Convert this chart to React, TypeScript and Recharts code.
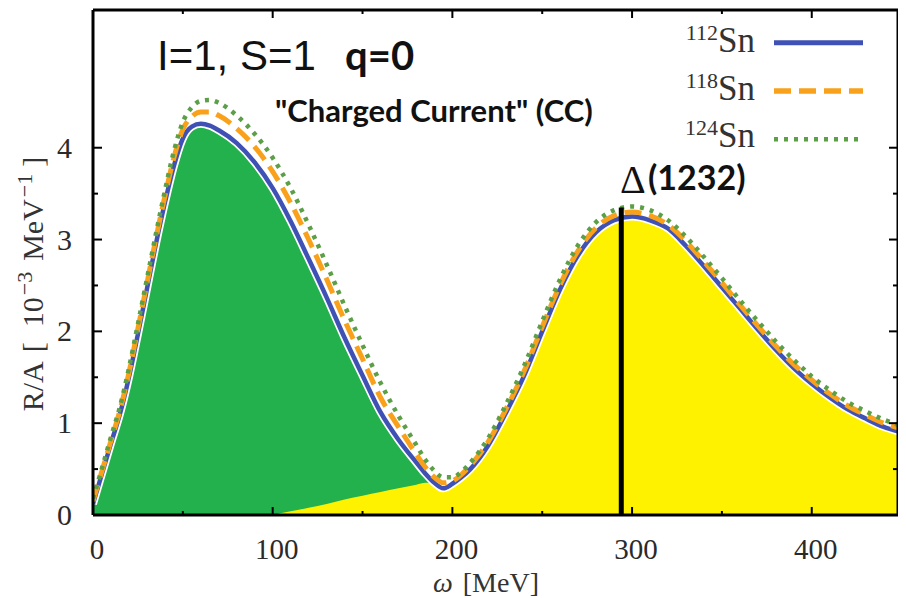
import React from 'react';
import { ComposedChart, Line, Area, XAxis, YAxis, ReferenceLine } from 'recharts';

// ω [MeV]
const OMEGA = [0, 5, 10, 15, 20, 25, 30, 35, 40, 45, 50, 55, 60, 65, 70,
  80, 90, 100, 110, 120, 130, 140, 150, 160, 170, 180,
  185, 190, 195, 200, 205, 210,
  220, 230, 240, 250, 260, 270, 280, 290, 300, 310, 320, 330, 340, 350, 360, 370, 380, 390, 400, 410, 420, 430, 440,
  448];

// R/A [10^-3 MeV^-1]
const SN112 = [0.12, 0.45, 0.78, 1.1, 1.5, 1.97, 2.46, 2.95, 3.4, 3.8, 4.1, 4.23, 4.26, 4.24, 4.19,
  4.05, 3.84, 3.56, 3.2, 2.79, 2.37, 1.93, 1.52, 1.12, 0.82, 0.57,
  0.45, 0.35, 0.29, 0.34, 0.41, 0.5,
  0.76, 1.12, 1.52, 2.0, 2.46, 2.83, 3.08, 3.21, 3.25, 3.21, 3.12, 2.93, 2.71, 2.48, 2.25, 2.02, 1.8, 1.6, 1.43, 1.28, 1.15, 1.05, 0.96,
  0.91];

const SN118 = [0.15, 0.48, 0.81, 1.14, 1.55, 2.03, 2.52, 3.01, 3.47, 3.89, 4.2, 4.34, 4.39, 4.39, 4.35,
  4.21, 4.01, 3.74, 3.4, 3.0, 2.57, 2.12, 1.7, 1.28, 0.96, 0.66,
  0.52, 0.41, 0.35, 0.37, 0.44, 0.54,
  0.8, 1.16, 1.57, 2.05, 2.51, 2.88, 3.13, 3.26, 3.3, 3.26, 3.16, 2.98, 2.76, 2.53, 2.29, 2.06, 1.84, 1.64, 1.47, 1.32, 1.19, 1.09, 1.0,
  0.95];

const SN124 = [0.18, 0.51, 0.85, 1.18, 1.6, 2.08, 2.57, 3.06, 3.53, 3.96, 4.28, 4.44, 4.51, 4.52, 4.49,
  4.35, 4.15, 3.89, 3.56, 3.16, 2.73, 2.28, 1.85, 1.44, 1.08, 0.76,
  0.6, 0.48, 0.41, 0.41, 0.47, 0.57,
  0.84, 1.21, 1.63, 2.11, 2.57, 2.94, 3.19, 3.32, 3.36, 3.32, 3.21, 3.03, 2.81, 2.58, 2.34, 2.11, 1.89, 1.69, 1.51, 1.36, 1.23, 1.13, 1.04,
  0.98];

// Δ contribution (yellow fill), null below 100 MeV
const DELTA_FILL = [null, null, null, null, null, null, null, null, null, null, null, null, null, null, null,
  null, null, 0, 0.04, 0.08, 0.12, 0.17, 0.21, 0.25, 0.29, 0.33,
  0.35, 0.35, 0.3, 0.34, 0.41, 0.5,
  0.76, 1.12, 1.52, 2.0, 2.46, 2.83, 3.08, 3.21, 3.25, 3.21, 3.12, 2.93, 2.71, 2.48, 2.25, 2.02, 1.8, 1.6, 1.43, 1.28, 1.15, 1.05, 0.96,
  0.91];

const QE_END = 190;
const DELTA_MASS_OMEGA = 294;
const DELTA_LINE_TOP = 3.35;

const X_TICKS = [0, 50, 100, 150, 200, 250, 300, 350, 400];
const X_LABELS = [0, 100, 200, 300, 400];
const Y_TICKS = [0, 0.5, 1, 1.5, 2, 2.5, 3, 3.5, 4];
const Y_LABELS = [0, 1, 2, 3, 4];

const LEGEND = [
  { mass: '112', color: '#3f51b5', dash: undefined as string | undefined, width: 5 },
  { mass: '118', color: '#f9a11b', dash: '17 8', width: 5.5 },
  { mass: '124', color: '#5b9f46', dash: '4 6', width: 4.5 },
];

const data = OMEGA.map((w, i) => ({
  w,
  b: SN112[i],
  o: SN118[i],
  g: SN124[i],
  qe: w <= QE_END ? SN112[i] : null,
  delta: DELTA_FILL[i],
}));

const W = 898;
const H = 590;
const SERIF = '"Liberation Serif", "DejaVu Serif", serif';
const TICK_COLOR = '#2a2a2a';

const BottomTick = (p: any) => {
  const { x, y, payload } = p;
  const v = payload.value;
  const major = X_LABELS.includes(v);
  return (
    <g>
      <line x1={x} x2={x} y1={y} y2={y - (major ? 8 : 4)} stroke="#000" strokeWidth={2} />
      {major && (
        <text x={x + 4} y={y + 44} textAnchor="middle" fontFamily={SERIF} fontSize={29} fill={TICK_COLOR}>{v}</text>
      )}
    </g>
  );
};
const TopTick = (p: any) => {
  const { x, y, payload } = p;
  const major = X_LABELS.includes(payload.value);
  return <line x1={x} x2={x} y1={y} y2={y + (major ? 8 : 4)} stroke="#000" strokeWidth={2} />;
};
const LeftTick = (p: any) => {
  const { x, y, payload } = p;
  const v = payload.value;
  const major = Y_LABELS.includes(v);
  return (
    <g>
      <line x1={x} x2={x + (major ? 9 : 5)} y1={y} y2={y} stroke="#000" strokeWidth={2} />
      {major && (
        <text x={x - 21} y={y + 10} textAnchor="end" fontFamily={SERIF} fontSize={30} fill={TICK_COLOR}>{v}</text>
      )}
    </g>
  );
};
const RightTick = (p: any) => {
  const { x, y, payload } = p;
  const major = Y_LABELS.includes(payload.value);
  return <line x1={x} x2={x - (major ? 9 : 5)} y1={y} y2={y} stroke="#000" strokeWidth={2} />;
};

const axisLine = { stroke: '#000', strokeWidth: 3 };

export default function App() {
  return (
    <div style={{ position: 'relative', width: W, height: H }}>
      <ComposedChart width={W} height={H} data={data} margin={{ top: 1, right: 7, left: 84, bottom: 82 }}>
        <XAxis dataKey="w" type="number" domain={[0, 448]} allowDataOverflow ticks={X_TICKS} interval={0}
          height={1} tickLine={false} tickSize={0} tickMargin={0} axisLine={axisLine}
          tick={(p: any) => <BottomTick {...p} />} />
        <XAxis xAxisId="top" orientation="top" dataKey="w" type="number" domain={[0, 448]} allowDataOverflow ticks={X_TICKS} interval={0}
          height={1} tickLine={false} tickSize={0} tickMargin={0} axisLine={axisLine}
          tick={(p: any) => <TopTick {...p} />} />
        <YAxis type="number" domain={[0, 5.5]} allowDataOverflow ticks={Y_TICKS} interval={0}
          width={1} tickLine={false} tickSize={0} tickMargin={0} axisLine={axisLine}
          tick={(p: any) => <LeftTick {...p} />} />
        <YAxis yAxisId="right" orientation="right" type="number" domain={[0, 5.5]} allowDataOverflow ticks={Y_TICKS} interval={0}
          width={1} tickLine={false} tickSize={0} tickMargin={0} axisLine={axisLine}
          tick={(p: any) => <RightTick {...p} />} />
        <Area type="monotone" dataKey="qe" fill="#22b14c" fillOpacity={1} stroke="none" isAnimationActive={false} />
        <Area type="monotone" dataKey="delta" fill="#fff200" fillOpacity={1} stroke="none" isAnimationActive={false} />
        <Line type="monotone" dataKey="b" stroke="#ffffff" strokeWidth={8} dot={false} isAnimationActive={false} />
        <Line type="monotone" dataKey="b" stroke="#3f51b5" strokeWidth={4.5} dot={false} isAnimationActive={false} />
        <Line type="monotone" dataKey="o" stroke="#f9a11b" strokeWidth={5} strokeDasharray="17 8" dot={false} isAnimationActive={false} />
        <Line type="monotone" dataKey="g" stroke="#5b9f46" strokeWidth={4.5} strokeDasharray="4 6" dot={false} isAnimationActive={false} />
        <ReferenceLine segment={[{ x: DELTA_MASS_OMEGA, y: 0 }, { x: DELTA_MASS_OMEGA, y: DELTA_LINE_TOP }]} stroke="#000" strokeWidth={5} />
        <Line xAxisId="top" yAxisId="right" type="monotone" dataKey="b" stroke="none" dot={false} isAnimationActive={false} />
      </ComposedChart>
      <svg width={W} height={H} style={{ position: 'absolute', left: 0, top: 0, pointerEvents: 'none' }}>
        <text x={149} y={62} fontFamily='"Liberation Sans", Arial, sans-serif' fontSize={42} fill="#111">I=1, S=1</text>
        <text x={337} y={62} fontFamily='Lato, "Open Sans", sans-serif' fontWeight={700} fontSize={40} fill="#111">q=0</text>
        <text x={267} y={114} fontFamily='Lato, "Open Sans", sans-serif' fontWeight={700} fontSize={31} fill="#111">"Charged Current" (CC)</text>
        <text x={612} y={185} fontFamily={SERIF} fontSize={40} fill="#111">Δ</text>
        <text x={640} y={182} fontFamily='Lato, "Open Sans", sans-serif' fontWeight={700} fontSize={34} fill="#111">(1232)</text>
        {LEGEND.map((l, i) => (
          <g key={l.mass}>
            <text x={747} y={44 + i * 47.5} textAnchor="end" fontFamily={SERIF} fill="#333">
              <tspan fontSize={22} dy={-12}>{l.mass}</tspan>
              <tspan fontSize={35} dy={12}>Sn</tspan>
            </text>
            <line x1={766} x2={855} y1={34.7 + i * 48.3} y2={34.7 + i * 48.3} stroke={l.color} strokeWidth={l.width} strokeDasharray={l.dash} />
          </g>
        ))}
        <text x={425} y={584} fontFamily={SERIF} fontSize={28} fill="#333">
          <tspan fontStyle="italic">ω</tspan><tspan dx={10}>[MeV]</tspan>
        </text>
        <text transform="translate(35,276) rotate(-90)" textAnchor="middle" fontFamily={SERIF} fontSize={30} fill="#333">
          R/A<tspan dx={9}>[</tspan><tspan dx={15}>10</tspan><tspan fontSize={22} dy={-11} dx={2}>−3</tspan><tspan dy={11} dx={11}>MeV</tspan><tspan fontSize={22} dy={-11} dx={2}>−1</tspan><tspan dy={11} dx={7}>]</tspan>
        </text>
      </svg>
    </div>
  );
}
